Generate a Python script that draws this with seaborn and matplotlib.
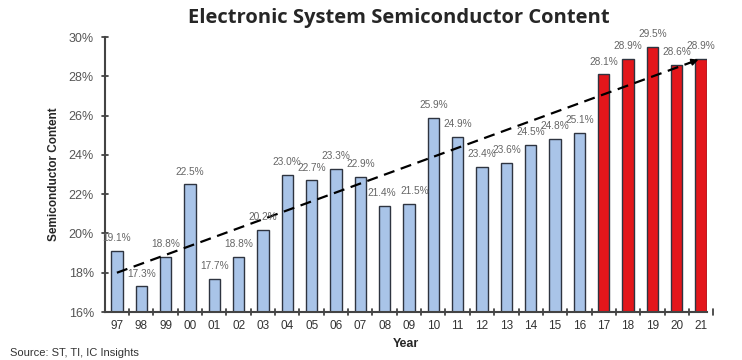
"""
Electronic System Semiconductor Content bar chart
"""

import matplotlib
matplotlib.use("Agg")
import matplotlib.pyplot as plt
import seaborn as sns
import pandas as pd

# Data
years = ["97", "98", "99", "00", "01", "02", "03", "04", "05", "06", "07", "08",
         "09", "10", "11", "12", "13", "14", "15", "16", "17", "18", "19", "20", "21"]
content = [19.1, 17.3, 18.8, 22.5, 17.7, 18.8, 20.2, 23.0, 22.7, 23.3, 22.9, 21.4,
           21.5, 25.9, 24.9, 23.4, 23.6, 24.5, 24.8, 25.1, 28.1, 28.9, 29.5, 28.6, 28.9]
period = ["Actual"] * 20 + ["Forecast"] * 5
trend_years = ["97", "21"]
trend_values = [18.0, 28.9]

df = pd.DataFrame({"year": years, "content": content, "period": period})

sns.set_style("white")
plt.rcParams["font.family"] = ["Liberation Sans", "DejaVu Sans"]

fig = plt.figure(figsize=(7.42, 3.6), dpi=100)
ax = fig.add_axes([0.1415, 0.1333, 0.8115, 0.7637])

sns.barplot(
    data=df,
    x="year",
    y="content",
    hue="period",
    palette={"Actual": "#a9c4e8", "Forecast": "#e3161b"},
    saturation=1,
    dodge=False,
    width=0.47,
    edgecolor="#2e3440",
    linewidth=1.0,
    legend=False,
    ax=ax,
)

# Value labels (a couple nudged sideways like the original)
nudge = {"09": 0.25, "08": -0.1}
for i, v in enumerate(content):
    ax.text(i + nudge.get(years[i], 0), v + 0.4, f"{v:.1f}%", ha="center", va="bottom",
            fontsize=7.3, color="#666666")

# Trend line
tx = [years.index(y) for y in trend_years]
ax.plot(tx, trend_values, color="black", linestyle=(0, (5, 3)), linewidth=1.6)
ax.annotate("", xy=(tx[1], trend_values[1]), xytext=(tx[1] - 0.6, trend_values[1] - 0.27),
            arrowprops=dict(arrowstyle="-|>", color="black", lw=1.2))

ax.set_ylim(16, 30)
ax.set_xlim(-0.49, len(years) - 0.75)
ax.set_yticks(range(16, 31, 2))
ax.set_yticklabels([f"{t}%" for t in range(16, 31, 2)], fontsize=9, color="#555555")
ax.set_xticks(range(len(years)))
ax.set_xticklabels(years, fontsize=8.5, color="#333333")
ax.tick_params(axis="x", length=0, pad=6)
ax.tick_params(axis="y", length=0, pad=8)

# Tick marks crossing the axes
for i in range(len(years)):
    ax.plot([i + 0.5, i + 0.5], [15.85, 16.15], color="#333333", lw=1.2, clip_on=False)
for t in range(16, 31, 2):
    ax.plot([-0.6, -0.38], [t, t], color="#333333", lw=1.2, clip_on=False)

sns.despine(ax=ax)
for side in ["left", "bottom"]:
    ax.spines[side].set_color("#444444")
    ax.spines[side].set_linewidth(1.5)

ax.set_xlabel("Year", fontsize=9, fontweight="bold", labelpad=4)
ax.set_ylabel("Semiconductor Content", fontsize=8.5, fontweight="bold", labelpad=6)

fig.text(0.537, 0.935, "Electronic System Semiconductor Content", ha="center",
         fontsize=14.5, fontweight="bold", family=["Open Sans", "DejaVu Sans"])
fig.text(0.014, 0.01, "Source: ST, TI, IC Insights", fontsize=8, color="#333333")

fig.savefig("out.png", dpi=100)
plt.close(fig)
